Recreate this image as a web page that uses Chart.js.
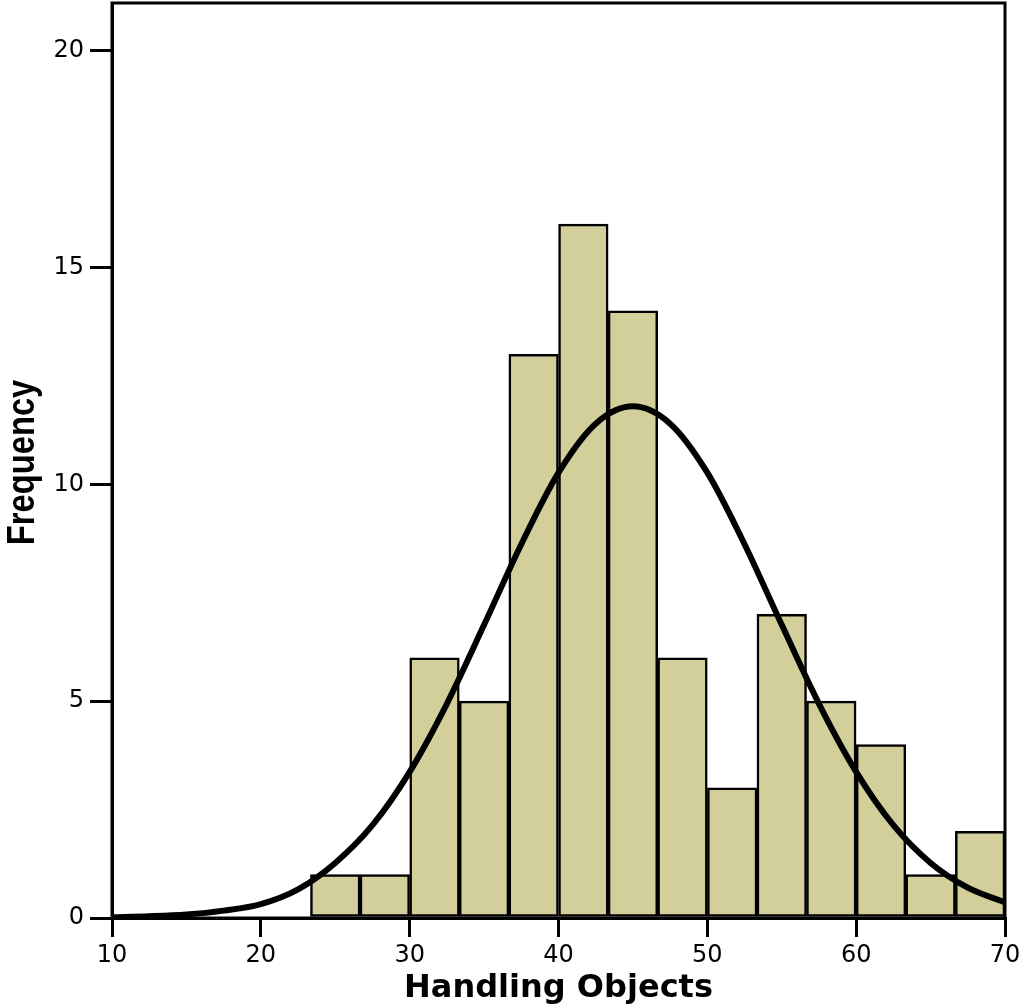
<!DOCTYPE html>
<html>
<head>
<meta charset="utf-8">
<script src="https://cdn.jsdelivr.net/npm/chart.js@4/dist/chart.umd.min.js"></script>
<style>
  html, body { margin: 0; padding: 0; background: #ffffff; }
  #wrap { width: 1024px; height: 1008px; position: relative; }
</style>
</head>
<body>
<div id="wrap"><canvas id="c"></canvas></div>
<script>
// Histogram bins (centers of 3.33-wide bins from 23.33 to 70)
const binCenters = [25, 28.33, 31.67, 35, 38.33, 41.67, 45, 48.33, 51.67, 55, 58.33, 61.67, 65, 68.33];
const binCounts  = [1, 1, 6, 5, 13, 16, 14, 6, 3, 7, 5, 4, 1, 2];

// Normal curve
const curveX = [10, 12.5, 15, 17.5, 20, 22.5, 25, 27.5, 30, 32.5, 35, 37.5, 40, 42.5, 45, 47.5, 50, 52.5, 55, 57.5, 60, 62.5, 65, 67.5, 70];
const curveY = [0.02, 0.04, 0.08, 0.17, 0.32, 0.66, 1.27, 2.14, 3.37, 4.94, 6.76, 8.62, 10.27, 11.4, 11.8, 11.4, 10.27, 8.62, 6.76, 4.94, 3.37, 2.14, 1.27, 0.7, 0.36];

const xTicks = [10, 20, 30, 40, 50, 60, 70];
const yTicks = [0, 5, 10, 15, 20];
const yTitle = 'Frequency';

const frame = {
  id: 'frame',
  afterDatasetsDraw(chart) {
    const { ctx, chartArea: a } = chart;
    ctx.save();
    ctx.strokeStyle = '#000';
    ctx.lineWidth = 3;
    ctx.strokeRect(a.left, a.top, a.right - a.left, a.bottom - a.top);
    ctx.restore();
  },
  afterDraw(chart) {
    const { ctx, chartArea: a } = chart;
    ctx.save();
    ctx.translate(34, (a.top + a.bottom) / 2 + 2);
    ctx.rotate(-Math.PI / 2);
    ctx.scale(0.84, 1);
    ctx.fillStyle = '#000';
    ctx.font = "bold 39px 'Liberation Sans', Arial, sans-serif";
    ctx.textAlign = 'center';
    ctx.textBaseline = 'alphabetic';
    ctx.fillText(yTitle, 0, 0);
    ctx.restore();
  }
};

new Chart(document.getElementById('c'), {
  type: 'bar',
  data: {
    datasets: [
      {
        type: 'line',
        order: 0,
        data: curveX.map((x, i) => ({ x: x, y: curveY[i] })),
        borderColor: '#000',
        borderWidth: 6,
        pointRadius: 0,
        fill: false,
        cubicInterpolationMode: 'monotone'
      },
      {
        type: 'bar',
        order: 1,
        data: binCenters.map((x, i) => ({ x: x, y: binCounts[i] })),
        backgroundColor: '#D3CF9B',
        borderColor: '#000',
        borderWidth: 2.5,
        borderSkipped: false,
        barPercentage: 1.0,
        categoryPercentage: 1.0
      }
    ]
  },
  options: {
    responsive: true,
    maintainAspectRatio: false,
    animation: false,
    layout: { padding: { top: 3, right: 19, left: 0, bottom: 0 } },
    plugins: { legend: { display: false }, tooltip: { enabled: false } },
    scales: {
      x: {
        type: 'linear',
        min: 10, max: 70,
        offset: false,
        afterBuildTicks(s) { s.ticks = xTicks.map(v => ({ value: v })); },
        afterFit(s) { s.height = 90; s.paddingLeft = 0; s.paddingRight = 0; },
        grid: { offset: false, drawOnChartArea: false, drawTicks: true, tickLength: 19, color: '#000', lineWidth: 3 },
        border: { display: true, color: '#000', width: 3 },
        ticks: { color: '#000', padding: 4, font: { family: 'DejaVu Sans', size: 24 }, maxRotation: 0 },
        title: { display: true, text: 'Handling Objects', color: '#000', padding: { top: 0, bottom: 0 },
                 font: { family: 'DejaVu Sans', size: 32, weight: 'bold' } }
      },
      y: {
        min: 0, max: 21.1,
        afterBuildTicks(s) { s.ticks = yTicks.map(v => ({ value: v })); },
        afterFit(s) { s.width = 112; s.paddingTop = 0; s.paddingBottom = 0; },
        grid: { drawOnChartArea: false, drawTicks: true, tickLength: 22, color: '#000', lineWidth: 3 },
        border: { display: true, color: '#000', width: 3 },
        ticks: { color: '#000', padding: 6, font: { family: 'DejaVu Sans', size: 24 } },
        title: { display: false }
      }
    }
  },
  plugins: [frame]
});
</script>
</body>
</html>
